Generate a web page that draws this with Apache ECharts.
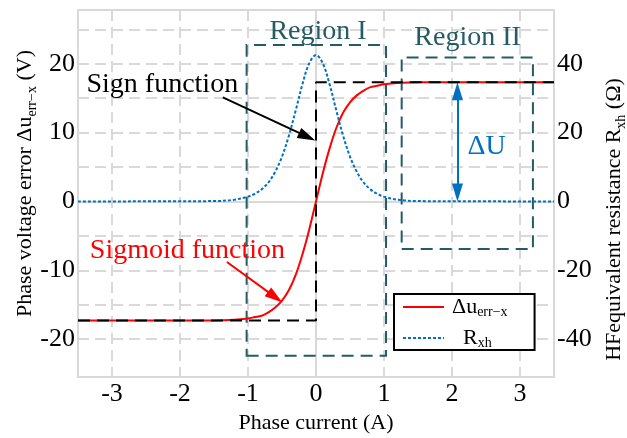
<!DOCTYPE html>
<html>
<head>
<meta charset="utf-8">
<script src="https://cdn.jsdelivr.net/npm/echarts@6/dist/echarts.min.js"></script>
<style>
  html, body { margin: 0; padding: 0; background: #fff; }
  #chart { width: 627px; height: 438px; }
</style>
</head>
<body>
<div id="chart"></div>
<script>
// Phase current samples (A)
const currentA = [-3.5, -1.5, -1.2, -1.0, -0.9, -0.8, -0.7, -0.6, -0.5, -0.4, -0.3, -0.2, -0.1, 0,
                  0.1, 0.2, 0.3, 0.4, 0.5, 0.6, 0.7, 0.8, 0.9, 1.0, 1.2, 1.5, 3.5];
// Sigmoid phase voltage error (V)
const sigmoidV = [-17.3, -17.3, -17.2, -17.0, -16.8, -16.6, -16.1, -15.4, -14.4, -12.9, -10.7, -7.7, -4.1, 0,
                  4.1, 7.7, 10.7, 12.9, 14.4, 15.4, 16.1, 16.6, 16.8, 17.0, 17.2, 17.3, 17.3];
// HF equivalent resistance (Ohm)
const rxhOhm = [0, 0.1, 0.5, 1.4, 2.2, 3.5, 5.5, 8.6, 13.0, 19.0, 26.3, 34.0, 40.1, 42.5,
                40.1, 34.0, 26.3, 19.0, 13.0, 8.6, 5.5, 3.5, 2.2, 1.4, 0.5, 0.1, 0];
// Sign function (V)
const signX = [-3.5, 0, 0, 3.5];
const signV = [-17.3, -17.3, 17.3, 17.3];

// Axis ticks
const xTicks = [-3, -2, -1, 0, 1, 2, 3];
const leftLabels = [-20, -10, 0, 10, 20];
const leftGridLines = [-20, -15, -10, -5, 0, 5, 10, 15, 20, 25];
const rightLabels = [-40, -20, 0, 20, 40];

const FONT = 'Liberation Serif';
const TEAL = '#245b66';
const BLUE = '#0070c0';
const GRID_GRAY = '#d9d9d9';

const zip = (xs, ys) => xs.map((x, i) => [x, ys[i]]);

const subRich = {
  t: { fontFamily: FONT, fontSize: 22, lineHeight: 28, color: '#000' },
  s: { fontFamily: FONT, fontSize: 14, lineHeight: 14, verticalAlign: 'bottom', color: '#000' }
};

// Text annotation anchored at a data coordinate
function textPoint(x, y, text, color, size) {
  return {
    coord: [x, y],
    symbol: 'circle',
    symbolSize: 1,
    itemStyle: { color: 'rgba(0,0,0,0)' },
    label: { show: true, position: 'inside', formatter: text, color: color,
             fontFamily: FONT, fontSize: size }
  };
}

// Straight arrow; the triangle head is centred on its end coordinate
function arrow(x1, y1, x2, y2, color, both) {
  const style = { color: color, width: 2, type: 'solid' };
  return [
    { coord: [x1, y1], symbol: both ? 'triangle' : 'none', symbolSize: [11, 18], lineStyle: style },
    { coord: [x2, y2], symbol: 'triangle', symbolSize: [11, 18], lineStyle: style }
  ];
}

const chart = echarts.init(document.getElementById('chart'), null, { renderer: 'canvas' });

chart.setOption({
  animation: false,
  backgroundColor: '#fff',
  grid: { left: 78, right: 73, top: 10, bottom: 61, show: true, outerBoundsMode: 'none',
          borderColor: GRID_GRAY, borderWidth: 2, backgroundColor: 'transparent' },
  legend: {
    data: ['du', 'rxh'],
    orient: 'vertical',
    left: 394, top: 294,
    itemWidth: 41, itemHeight: 12, itemGap: 8,
    padding: [2, 27, 0, 8],
    backgroundColor: '#fff',
    borderColor: '#000', borderWidth: 2,
    itemStyle: { opacity: 0 },
    textStyle: { padding: [0, 0, 0, 3], rich: {
      m: { fontFamily: FONT, fontSize: 22, lineHeight: 24, color: '#000' },
      r: { fontFamily: FONT, fontSize: 22, lineHeight: 24, color: '#000', padding: [0, 0, 0, 11] },
      s: { fontFamily: FONT, fontSize: 14, lineHeight: 12, verticalAlign: 'bottom', color: '#000' }
    } },
    formatter: name => name === 'du' ? '{m|Δu}{s|err−x}' : '{r|R}{s|xh}'
  },
  xAxis: {
    type: 'value', min: -3.5, max: 3.5,
    name: 'Phase current (A)', nameLocation: 'middle', nameGap: 32,
    nameTextStyle: { fontFamily: FONT, fontSize: 22, color: '#000' },
    axisLine: { show: true, lineStyle: { color: GRID_GRAY, width: 2 } },
    axisTick: { show: false, customValues: xTicks },
    axisLabel: { customValues: xTicks, margin: 4, fontFamily: FONT, fontSize: 26, color: '#000' },
    splitLine: { show: true, lineStyle: { color: GRID_GRAY, width: 2, type: [11, 6] } }
  },
  yAxis: [
    {
      type: 'value', min: -25.5, max: 27.8, position: 'left',
      name: '{t|Phase voltage error Δu}{s|err−x}{t| (V)}', nameLocation: 'middle', nameGap: 39,
      nameMoveOverlap: false,
      nameTextStyle: { rich: subRich, padding: [0, 0, 0, 20] },
      axisLine: { show: true, lineStyle: { color: GRID_GRAY, width: 2 } },
      axisTick: { show: false, customValues: leftGridLines },
      axisLabel: { customValues: leftLabels, margin: 3, fontFamily: FONT, fontSize: 26, color: '#000' },
      splitLine: { show: true, lineStyle: { color: GRID_GRAY, width: 2, type: [11, 6] } }
    },
    {
      type: 'value', min: -51, max: 55.6, position: 'right',
      name: '{t|HFequivalent resistance R}{s|xh}{t| (Ω)}', nameLocation: 'middle', nameGap: 46,
      nameTextStyle: { rich: subRich, padding: [0, 52, 0, 0] },
      axisLine: { show: true, lineStyle: { color: GRID_GRAY, width: 2 } },
      axisTick: { show: false, customValues: rightLabels },
      axisLabel: { customValues: rightLabels, margin: 3, fontFamily: FONT, fontSize: 26, color: '#000' },
      splitLine: { show: false }
    }
  ],
  series: [
    {
      name: 'du', type: 'line', yAxisIndex: 0, z: 3,
      data: zip(currentA, sigmoidV),
      showSymbol: false, symbol: 'none', smooth: 0.35,
      lineStyle: { color: '#ff0000', width: 2 }, itemStyle: { color: '#ff0000' },
      markLine: {
        silent: true, animation: false,
        label: { show: false },
        data: [ arrow(-1.31, -8.8, -0.6, -13.9, '#ff0000', false) ]
      }
    },
    {
      name: 'rxh', type: 'line', yAxisIndex: 1, z: 4,
      data: zip(currentA, rxhOhm),
      showSymbol: false, symbol: 'none', smooth: 0.35,
      lineStyle: { color: BLUE, width: 2, type: [3, 2] }, itemStyle: { color: BLUE }
    },
    {
      name: 'sign', type: 'line', yAxisIndex: 0, z: 5,
      data: zip(signX, signV),
      showSymbol: false, symbol: 'none',
      lineStyle: { color: '#000', width: 2, type: [12, 7] },
      markArea: {
        silent: true,
        label: { show: false },
        itemStyle: { color: 'rgba(0,0,0,0)', borderColor: TEAL, borderWidth: 2, borderType: [12, 7] },
        data: [
          [ { coord: [-1.02, -22.4] }, { coord: [1.03, 22.7] } ],
          [ { coord: [1.26, -6.9] }, { coord: [3.19, 20.9] } ]
        ]
      },
      markLine: {
        silent: true, animation: false,
        label: { show: false },
        data: [
          arrow(-1.37, 15.1, -0.13, 9.4, '#000', false),
          arrow(2.08, 16.0, 2.08, 1.3, BLUE, true)
        ]
      },
      markPoint: {
        silent: true,
        data: [
          textPoint(0.03, 24.6, 'Region I', TEAL, 28),
          textPoint(2.23, 23.8, 'Region II', TEAL, 28),
          textPoint(-2.26, 17.0, 'Sign function', '#000', 28),
          textPoint(-1.89, -7.1, 'Sigmoid function', '#ff0000', 28),
          textPoint(2.51, 8.0, 'ΔU', BLUE, 28)
        ]
      }
    }
  ]
});
</script>
</body>
</html>
